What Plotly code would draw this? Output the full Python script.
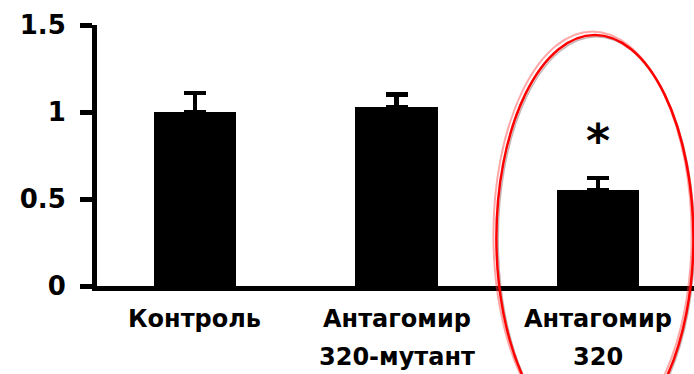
import plotly.graph_objects as go

# Relative expression by group
line1 = ["Контроль", "Антагомир", "Антагомир"]
line2 = ["", "320-мутант", "320"]
values = [1.00, 1.03, 0.55]
errors = [0.11, 0.07, 0.07]
marks = ["", "", "*"]
y_ticks = [0, 0.5, 1, 1.5]
y_tick_text = ["0", "0.5", "1", "1.5"]

xs = list(range(len(values)))
FONT = "DejaVu Sans"

fig = go.Figure()
fig.add_trace(go.Bar(
    x=xs, y=values, width=0.41,
    marker=dict(color="black", line=dict(width=0)),
    error_y=dict(type="data", array=errors, arrayminus=[0] * len(errors),
                 symmetric=False, color="black", thickness=4.5, width=11),
    showlegend=False, hoverinfo="skip",
))

annotations = []
for x, a, b in zip(xs, line1, line2):
    annotations.append(dict(x=x, y=0, xref="x", yref="paper", text=f"<b>{a}</b>",
                            showarrow=False, yanchor="middle", yshift=-33,
                            font=dict(family=FONT, size=24, color="black")))
    if b:
        annotations.append(dict(x=x, y=0, xref="x", yref="paper", text=f"<b>{b}</b>",
                                showarrow=False, yanchor="middle", yshift=-71,
                                font=dict(family=FONT, size=24, color="black")))
for x, v, e, m in zip(xs, values, errors, marks):
    if m:
        annotations.append(dict(x=x, y=v + e, xref="x", yref="y", text=f"<b>{m}</b>",
                                showarrow=False, yanchor="middle", yshift=37,
                                font=dict(family=FONT, size=46, color="black")))

# hand-drawn highlight ring around the last group
ring = dict(type="circle", xref="paper", yref="paper", layer="above")
shapes = [
    dict(ring, x0=0.664, x1=0.996, y0=-0.585, y1=0.975,
         line=dict(color="rgba(255,60,60,0.45)", width=2)),
    dict(ring, x0=0.672, x1=1.001, y0=-0.600, y1=0.955,
         line=dict(color="rgba(90,40,40,0.35)", width=1.5)),
    dict(ring, x0=0.669, x1=0.999, y0=-0.594, y1=0.962,
         line=dict(color="#ff0000", width=2.5)),
]

fig.update_layout(
    width=694, height=374,
    margin=dict(l=97, r=0, t=25, b=88),
    paper_bgcolor="white", plot_bgcolor="white",
    xaxis=dict(range=[-0.486, 2.476], showticklabels=False, ticks="",
               showgrid=False, zeroline=False, showline=True,
               linecolor="black", linewidth=5, fixedrange=True),
    yaxis=dict(range=[0, 1.5], tickvals=y_ticks, ticktext=y_tick_text,
               ticks="outside", ticklen=12, tickwidth=4.5, tickcolor="black",
               ticklabelstandoff=9,
               tickfont=dict(family=FONT, size=26, color="black", weight="bold"),
               showgrid=False, zeroline=False, showline=True,
               linecolor="black", linewidth=5, fixedrange=True),
    annotations=annotations,
    shapes=shapes,
    bargap=0,
)

fig.write_html("out.html")
